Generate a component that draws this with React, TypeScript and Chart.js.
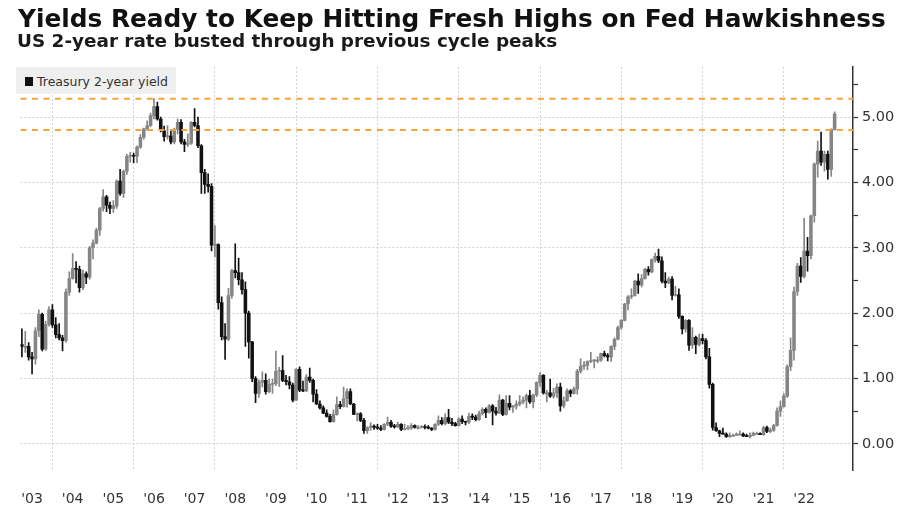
import React, { useEffect, useRef } from "react";
import { Chart, registerables } from "chart.js";

Chart.register(...registerables);

const TITLE = "Yields Ready to Keep Hitting Fresh Highs on Fed Hawkishness";
const SUBTITLE = "US 2-year rate busted through previous cycle peaks";
const SERIES_NAME = "Treasury 2-year yield";

// Monthly candles, first one = March 2003, last one = March 2023
const FIRST_YEAR = 2003;
const FIRST_MONTH = 3;

const opens = [
  1.52, 1.49, 1.49, 1.33, 1.30, 1.73, 1.98, 1.45, 1.83, 2.05, // 2003
  1.82, 1.67, 1.62, 1.58, 2.32, 2.53, 2.68, 2.67, 2.39, 2.60, 2.55, 3.00, // 2004
  3.07, 3.27, 3.60, 3.78, 3.65, 3.60, 3.64, 4.02, 3.83, 4.17, 4.40, 4.41, // 2005
  4.40, 4.54, 4.69, 4.82, 4.87, 5.02, 5.16, 4.97, 4.79, 4.70, 4.71, 4.62, // 2006
  4.81, 4.92, 4.62, 4.58, 4.60, 4.92, 4.87, 4.56, 4.15, 3.97, 3.94, 3.04, // 2007
  3.05, 2.16, 1.64, 1.60, 2.27, 2.65, 2.62, 2.51, 2.36, 2.00, 1.56, 1.00, // 2008
  0.77, 0.94, 0.97, 0.80, 0.91, 0.92, 1.11, 1.12, 0.97, 0.95, 0.90, 0.67, // 2009
  1.14, 0.82, 0.81, 1.02, 0.97, 0.76, 0.61, 0.55, 0.47, 0.42, 0.34, 0.45, // 2010
  0.60, 0.57, 0.69, 0.80, 0.61, 0.45, 0.46, 0.36, 0.20, 0.25, 0.27, 0.25, // 2011
  0.24, 0.22, 0.30, 0.33, 0.27, 0.26, 0.30, 0.22, 0.23, 0.24, 0.28, 0.25, // 2012
  0.25, 0.26, 0.25, 0.24, 0.22, 0.30, 0.36, 0.31, 0.40, 0.33, 0.31, 0.28, // 2013
  0.38, 0.34, 0.33, 0.42, 0.41, 0.37, 0.46, 0.53, 0.48, 0.58, 0.50, 0.47, // 2014
  0.67, 0.45, 0.62, 0.56, 0.58, 0.61, 0.64, 0.67, 0.74, 0.64, 0.75, 0.94, // 2015
  1.05, 0.78, 0.78, 0.73, 0.78, 0.87, 0.58, 0.66, 0.81, 0.77, 0.84, 1.11, // 2016
  1.19, 1.20, 1.26, 1.27, 1.28, 1.28, 1.38, 1.35, 1.33, 1.49, 1.60, 1.78, // 2017
  1.89, 2.14, 2.25, 2.27, 2.49, 2.43, 2.53, 2.67, 2.63, 2.82, 2.87, 2.80, // 2018
  2.49, 2.46, 2.52, 2.27, 2.28, 1.95, 1.76, 1.89, 1.51, 1.63, 1.52, 1.61, // 2019
  1.58, 1.33, 0.91, 0.25, 0.20, 0.16, 0.15, 0.11, 0.13, 0.13, 0.15, 0.15, // 2020
  0.12, 0.11, 0.13, 0.16, 0.16, 0.14, 0.25, 0.19, 0.21, 0.28, 0.50, 0.57, // 2021
  0.73, 1.18, 1.43, 2.33, 2.72, 2.56, 2.95, 2.88, 3.49, 4.28, 4.48, 4.31, // 2022
  4.43, 4.20, 4.81, // 2023
];

const highs = [
  1.76, 1.72, 1.55, 1.40, 1.78, 2.05, 2.00, 1.88, 2.10, 2.13, // 2003
  1.93, 1.84, 1.66, 2.37, 2.63, 2.91, 2.79, 2.72, 2.66, 2.63, 3.02, 3.12, // 2004
  3.30, 3.62, 3.89, 3.80, 3.70, 3.72, 4.04, 4.20, 4.19, 4.43, 4.46, 4.45, // 2005
  4.56, 4.73, 4.83, 4.94, 5.06, 5.28, 5.23, 5.00, 4.86, 4.87, 4.78, 4.83, // 2006
  4.97, 4.96, 4.66, 4.74, 4.93, 5.13, 5.00, 4.58, 4.20, 4.13, 3.98, 3.34, // 2007
  3.06, 2.25, 1.84, 2.38, 2.67, 3.06, 2.84, 2.62, 2.48, 2.03, 1.57, 1.03, // 2008
  0.98, 1.10, 1.07, 0.99, 0.99, 1.42, 1.17, 1.35, 1.05, 1.03, 0.93, 1.15, // 2009
  1.18, 0.96, 1.06, 1.16, 0.99, 0.83, 0.66, 0.58, 0.52, 0.45, 0.52, 0.72, // 2010
  0.65, 0.87, 0.84, 0.84, 0.62, 0.47, 0.48, 0.39, 0.26, 0.32, 0.29, 0.30, // 2011
  0.28, 0.31, 0.41, 0.36, 0.30, 0.33, 0.31, 0.30, 0.28, 0.31, 0.29, 0.28, // 2012
  0.28, 0.29, 0.28, 0.25, 0.31, 0.43, 0.40, 0.46, 0.53, 0.39, 0.33, 0.40, // 2013
  0.43, 0.35, 0.47, 0.46, 0.44, 0.50, 0.55, 0.55, 0.60, 0.60, 0.56, 0.75, // 2014
  0.68, 0.74, 0.74, 0.59, 0.66, 0.74, 0.72, 0.76, 0.82, 0.76, 0.95, 1.09, // 2015
  1.06, 0.82, 0.99, 0.85, 0.92, 0.93, 0.72, 0.84, 0.83, 0.87, 1.14, 1.30, // 2016
  1.26, 1.27, 1.40, 1.29, 1.33, 1.39, 1.42, 1.38, 1.50, 1.62, 1.80, 1.90, // 2017
  2.15, 2.27, 2.37, 2.50, 2.60, 2.59, 2.69, 2.71, 2.83, 2.92, 2.98, 2.86, // 2018
  2.62, 2.55, 2.56, 2.41, 2.37, 1.96, 1.90, 1.90, 1.78, 1.65, 1.68, 1.68, // 2019
  1.61, 1.46, 0.93, 0.32, 0.21, 0.24, 0.17, 0.17, 0.15, 0.17, 0.20, 0.17, // 2020
  0.15, 0.17, 0.18, 0.18, 0.17, 0.27, 0.27, 0.24, 0.30, 0.55, 0.66, 0.77, // 2021
  1.21, 1.62, 2.40, 2.76, 2.85, 3.45, 3.16, 3.50, 4.30, 4.63, 4.77, 4.48, // 2022
  4.48, 4.82, 5.08, // 2023
];

const lows = [
  1.33, 1.40, 1.28, 1.07, 1.22, 1.64, 1.42, 1.43, 1.80, 1.78, // 2003
  1.62, 1.59, 1.42, 1.55, 2.27, 2.52, 2.46, 2.32, 2.36, 2.45, 2.52, 2.83, // 2004
  3.06, 3.19, 3.56, 3.55, 3.52, 3.54, 3.60, 3.80, 3.77, 4.12, 4.31, 4.30, // 2005
  4.30, 4.52, 4.66, 4.79, 4.85, 4.97, 4.95, 4.77, 4.63, 4.66, 4.59, 4.59, // 2006
  4.74, 4.59, 4.47, 4.55, 4.58, 4.85, 4.53, 3.83, 3.83, 3.85, 2.95, 2.86, // 2007
  2.06, 1.59, 1.29, 1.58, 2.23, 2.54, 2.43, 2.29, 1.49, 1.31, 0.95, 0.63, // 2008
  0.71, 0.87, 0.76, 0.78, 0.77, 0.89, 0.88, 0.95, 0.90, 0.84, 0.64, 0.66, // 2009
  0.80, 0.80, 0.80, 0.94, 0.64, 0.60, 0.53, 0.46, 0.41, 0.33, 0.33, 0.44, // 2010
  0.54, 0.56, 0.56, 0.60, 0.45, 0.35, 0.34, 0.16, 0.16, 0.21, 0.22, 0.22, // 2011
  0.20, 0.21, 0.28, 0.25, 0.24, 0.25, 0.20, 0.21, 0.22, 0.22, 0.24, 0.23, // 2012
  0.24, 0.23, 0.23, 0.20, 0.21, 0.28, 0.29, 0.29, 0.31, 0.28, 0.27, 0.27, // 2013
  0.31, 0.29, 0.31, 0.37, 0.35, 0.36, 0.44, 0.40, 0.47, 0.29, 0.44, 0.46, // 2014
  0.43, 0.44, 0.52, 0.48, 0.53, 0.58, 0.61, 0.55, 0.62, 0.55, 0.72, 0.88, // 2015
  0.76, 0.64, 0.71, 0.70, 0.71, 0.50, 0.55, 0.65, 0.72, 0.76, 0.76, 1.08, // 2016
  1.14, 1.13, 1.24, 1.16, 1.24, 1.26, 1.33, 1.27, 1.26, 1.44, 1.59, 1.75, // 2017
  1.88, 2.05, 2.22, 2.26, 2.30, 2.40, 2.52, 2.58, 2.62, 2.78, 2.77, 2.46, // 2018
  2.39, 2.45, 2.20, 2.26, 1.92, 1.68, 1.71, 1.43, 1.46, 1.38, 1.50, 1.53, // 2019
  1.30, 0.85, 0.21, 0.19, 0.11, 0.15, 0.10, 0.10, 0.12, 0.13, 0.14, 0.11, // 2020
  0.11, 0.09, 0.12, 0.15, 0.14, 0.13, 0.17, 0.17, 0.19, 0.27, 0.42, 0.56, // 2021
  0.71, 1.12, 1.28, 2.27, 2.47, 2.54, 2.64, 2.83, 3.39, 4.08, 4.26, 4.17, // 2022
  4.05, 4.09, 4.80, // 2023
];

const closes = [
  1.49, 1.49, 1.33, 1.30, 1.73, 1.98, 1.45, 1.83, 2.05, 1.82, // 2003
  1.67, 1.62, 1.58, 2.32, 2.53, 2.68, 2.67, 2.39, 2.60, 2.55, 3.00, 3.07, // 2004
  3.27, 3.60, 3.78, 3.65, 3.60, 3.64, 4.02, 3.83, 4.17, 4.40, 4.41, 4.40, // 2005
  4.54, 4.69, 4.82, 4.87, 5.02, 5.16, 4.97, 4.79, 4.70, 4.71, 4.62, 4.81, // 2006
  4.92, 4.62, 4.58, 4.60, 4.92, 4.87, 4.56, 4.15, 3.97, 3.94, 3.04, 3.05, // 2007
  2.16, 1.64, 1.60, 2.27, 2.65, 2.62, 2.51, 2.36, 2.00, 1.56, 1.00, 0.77, // 2008
  0.94, 0.97, 0.80, 0.91, 0.92, 1.11, 1.12, 0.97, 0.95, 0.90, 0.67, 1.14, // 2009
  0.82, 0.81, 1.02, 0.97, 0.76, 0.61, 0.55, 0.47, 0.42, 0.34, 0.45, 0.60, // 2010
  0.57, 0.69, 0.80, 0.61, 0.45, 0.46, 0.36, 0.20, 0.25, 0.27, 0.25, 0.24, // 2011
  0.22, 0.30, 0.33, 0.27, 0.26, 0.30, 0.22, 0.23, 0.24, 0.28, 0.25, 0.25, // 2012
  0.26, 0.25, 0.24, 0.22, 0.30, 0.36, 0.31, 0.40, 0.33, 0.31, 0.28, 0.38, // 2013
  0.34, 0.33, 0.42, 0.41, 0.37, 0.46, 0.53, 0.48, 0.58, 0.50, 0.47, 0.67, // 2014
  0.45, 0.62, 0.56, 0.58, 0.61, 0.64, 0.67, 0.74, 0.64, 0.75, 0.94, 1.05, // 2015
  0.78, 0.78, 0.73, 0.78, 0.87, 0.58, 0.66, 0.81, 0.77, 0.84, 1.11, 1.19, // 2016
  1.20, 1.26, 1.27, 1.28, 1.28, 1.38, 1.35, 1.33, 1.49, 1.60, 1.78, 1.89, // 2017
  2.14, 2.25, 2.27, 2.49, 2.43, 2.53, 2.67, 2.63, 2.82, 2.87, 2.80, 2.49, // 2018
  2.46, 2.52, 2.27, 2.28, 1.95, 1.76, 1.89, 1.51, 1.63, 1.52, 1.61, 1.58, // 2019
  1.33, 0.91, 0.25, 0.20, 0.16, 0.15, 0.11, 0.13, 0.13, 0.15, 0.15, 0.12, // 2020
  0.11, 0.13, 0.16, 0.16, 0.14, 0.25, 0.19, 0.21, 0.28, 0.50, 0.57, 0.73, // 2021
  1.18, 1.43, 2.33, 2.72, 2.56, 2.95, 2.88, 3.49, 4.28, 4.48, 4.31, 4.43, // 2022
  4.20, 4.81, 5.05, // 2023
];

// Axis labels ('03 … '22) sit mid-year; vertical grid lines at every other year start
const yearLabels = [
  2003, 2004, 2005, 2006, 2007, 2008, 2009, 2010, 2011, 2012,
  2013, 2014, 2015, 2016, 2017, 2018, 2019, 2020, 2021, 2022,
];
const gridYears = [2004, 2006, 2008, 2010, 2012, 2014, 2016, 2018, 2020, 2022];
const yTicks = [0, 0.5, 1, 1.5, 2, 2.5, 3, 3.5, 4, 4.5, 5, 5.5];
const peakLevels = [5.28, 4.8];

const X_MIN = 2003.213;
const X_MAX = 2023.702;
const Y_MIN = -0.4;
const Y_MAX = 5.765;

const UP_COLOR = "#858585";
const DOWN_COLOR = "#111111";
const ORANGE = "#f5a43a";
const GRID = "#d2d2d2";
const TEXT = "#333333";
const FONT = "'DejaVu Sans', sans-serif";

export default function App() {
  const canvasRef = useRef<HTMLCanvasElement | null>(null);

  useEffect(() => {
    const xs = closes.map((_, i) => FIRST_YEAR + (FIRST_MONTH + i) / 12);
    const isUp = closes.map((c, i) => c >= opens[i]);
    const colors = isUp.map((u) => (u ? UP_COLOR : DOWN_COLOR));

    const lineSets: any[] = peakLevels.map((lv) => ({
      type: "line",
      data: [
        { x: X_MIN, y: lv },
        { x: X_MAX, y: lv },
      ],
      borderColor: ORANGE,
      borderWidth: 2,
      borderDash: [6, 5.5],
      pointRadius: 0,
      fill: false,
      order: 0,
      xAxisID: "x",
      yAxisID: "y",
    }));

    const chart = new Chart(canvasRef.current as HTMLCanvasElement, {
      type: "bar",
      data: {
        datasets: [
          ...lineSets,
          {
            type: "bar",
            label: "wick",
            data: xs.map((x, i) => ({ x, y: [lows[i], highs[i]] })),
            backgroundColor: colors,
            barThickness: 1,
            grouped: false,
            order: 2,
            xAxisID: "x",
            yAxisID: "y",
          },
          {
            type: "bar",
            label: SERIES_NAME,
            data: xs.map((x, i) => ({ x, y: [opens[i], closes[i]] })),
            backgroundColor: colors,
            barThickness: 2.9,
            minBarLength: 1,
            grouped: false,
            order: 1,
            xAxisID: "x",
            yAxisID: "y",
          },
        ] as any,
      },
      options: {
        animation: false,
        responsive: true,
        maintainAspectRatio: false,
        events: [],
        layout: { padding: { top: 67, left: 16, right: 0, bottom: 0 } },
        plugins: {
          legend: { display: false },
          tooltip: { enabled: false },
          title: { display: false },
        },
        scales: {
          x: {
            type: "linear",
            position: "bottom",
            min: X_MIN,
            max: X_MAX,
            offset: false,
            grid: { display: false, offset: false, drawTicks: false },
            border: { display: false },
            afterBuildTicks: (scale: any) => {
              scale.ticks = yearLabels.map((y) => ({ value: y + 0.5 }));
            },
            afterFit: (scale: any) => {
              scale.height = 40;
            },
            ticks: {
              autoSkip: false,
              maxRotation: 0,
              padding: 21,
              color: TEXT,
              font: { family: FONT, size: 14 },
              callback: (v: any) => "'" + String(Math.floor(Number(v))).slice(2),
            },
          },
          xg: {
            type: "linear",
            position: "bottom",
            min: X_MIN,
            max: X_MAX,
            offset: false,
            grid: {
              display: true,
              offset: false,
              drawTicks: false,
              drawOnChartArea: true,
              color: GRID,
              lineWidth: 1,
            },
            border: { display: false, dash: [2, 2] },
            afterBuildTicks: (scale: any) => {
              scale.ticks = gridYears.map((y) => ({ value: y }));
            },
            afterFit: (scale: any) => {
              scale.height = 0;
            },
            ticks: { display: false },
          },
          y: {
            type: "linear",
            position: "right",
            min: Y_MIN,
            max: Y_MAX,
            afterBuildTicks: (scale: any) => {
              scale.ticks = yTicks.map((v) => ({ value: v }));
            },
            afterFit: (scale: any) => {
              scale.width = 47;
            },
            grid: {
              display: true,
              drawOnChartArea: true,
              drawTicks: true,
              tickLength: 5,
              tickColor: TEXT,
              tickWidth: 1.2,
              tickBorderDash: [],
              color: (ctx: any) =>
                ctx.tick && Number.isInteger(ctx.tick.value) ? GRID : "rgba(0,0,0,0)",
              lineWidth: 1,
            },
            border: { display: true, color: TEXT, width: 1.5, dash: [2, 2] },
            ticks: {
              padding: 4,
              color: TEXT,
              font: { family: FONT, size: 14.5 },
              callback: (v: any) =>
                Number.isInteger(Number(v)) ? Number(v).toFixed(2) : "",
            },
          },
        },
      } as any,
    });
    return () => chart.destroy();
  }, []);

  return (
    <div
      style={{
        position: "absolute",
        left: 0,
        top: 0,
        width: 900,
        height: 510,
        background: "#ffffff",
        overflow: "hidden",
        fontFamily: FONT,
      }}
    >
      <canvas ref={canvasRef} style={{ position: "absolute", left: 0, top: 0 }} />
      <div
        style={{
          position: "absolute",
          left: 18,
          top: 7.3,
          fontSize: 24.8,
          lineHeight: "24.8px",
          fontWeight: 700,
          color: "#111",
          whiteSpace: "nowrap",
        }}
      >
        {TITLE}
      </div>
      <div
        style={{
          position: "absolute",
          left: 17,
          top: 31.7,
          fontSize: 18.4,
          lineHeight: "18.4px",
          fontWeight: 700,
          color: "#1a1a1a",
          whiteSpace: "nowrap",
        }}
      >
        {SUBTITLE}
      </div>
      <div
        style={{
          position: "absolute",
          left: 16,
          top: 67,
          width: 160,
          height: 27,
          background: "#efefef",
        }}
      >
        <div
          style={{
            position: "absolute",
            left: 9,
            top: 10,
            width: 8,
            height: 9,
            background: "#111",
          }}
        />
        <div
          style={{
            position: "absolute",
            left: 21,
            top: 7,
            fontSize: 12.5,
            lineHeight: "15px",
            color: TEXT,
            whiteSpace: "nowrap",
          }}
        >
          {SERIES_NAME}
        </div>
      </div>
    </div>
  );
}
